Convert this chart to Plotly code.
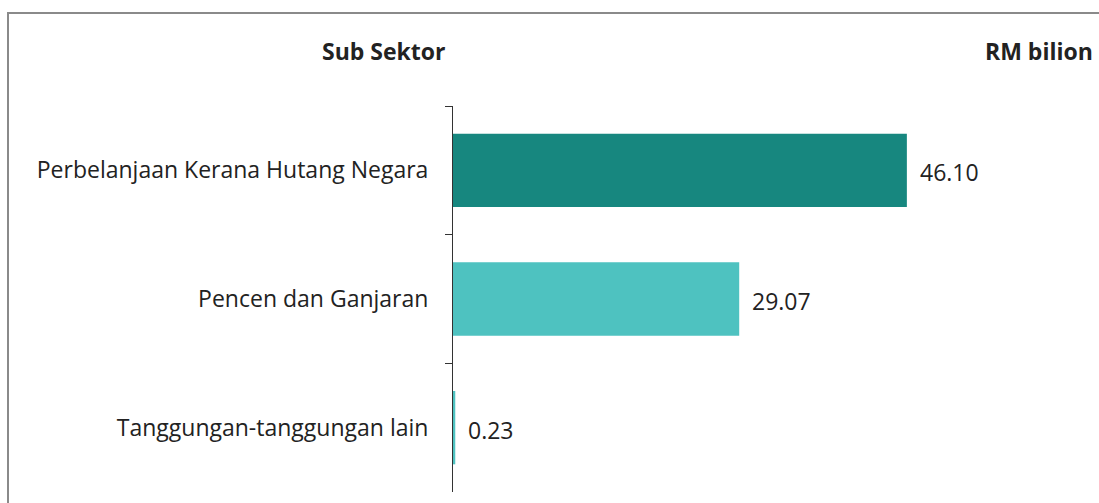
import plotly.graph_objects as go

categories = ["Perbelanjaan Kerana Hutang Negara", "Pencen dan Ganjaran", "Tanggungan-tanggungan lain"]
values = [46.10, 29.07, 0.23]
bar_colors = ["#17877f", "#4ec2c0", "#4ec2c0"]
header_left = "Sub Sektor"
header_right = "RM bilion"

FONT = "Open Sans"
FS = 23
W, H = 1099, 503
L, R, T, B = 453, 9, 106, 11
pw = W - L - R
ph = H - T - B

def px_x(p):
    return (p - L) / pw

def px_y(p):
    return (H - B - p) / ph

fig = go.Figure()
fig.add_trace(go.Bar(
    x=values, y=categories, orientation="h",
    marker=dict(color=bar_colors, line=dict(width=0)),
    width=0.57, hoverinfo="skip",
))

for c, v in zip(categories, values):
    fig.add_annotation(x=v, y=c, xref="x", yref="y", text=f"{v:.2f}",
                       showarrow=False, xanchor="left", yanchor="middle",
                       xshift=11, yshift=-2,
                       font=dict(family=FONT, size=FS, color="#222"))

fig.add_annotation(x=px_x(448), y=px_y(51), xref="paper", yref="paper",
                   text=f"<b>{header_left}</b>", showarrow=False,
                   xanchor="right", yanchor="middle",
                   font=dict(family=FONT, size=FS, color="#222"))
fig.add_annotation(x=px_x(1095), y=px_y(51), xref="paper", yref="paper",
                   text=f"<b>{header_right}</b>", showarrow=False,
                   xanchor="right", yanchor="middle",
                   font=dict(family=FONT, size=FS, color="#222"))

fig.add_shape(type="rect", xref="paper", yref="paper",
              x0=px_x(8), x1=px_x(1110), y0=px_y(13), y1=px_y(515),
              line=dict(color="#8a8a8a", width=2), fillcolor="rgba(0,0,0,0)")

fig.update_layout(
    width=W, height=H,
    margin=dict(l=L, r=R, t=T, b=B, pad=0),
    paper_bgcolor="white", plot_bgcolor="white",
    showlegend=False,
    font=dict(family=FONT, size=FS, color="#222"),
    bargap=0.43,
)
fig.update_xaxes(range=[0, 64.7], visible=False, showgrid=False, zeroline=False)
fig.update_yaxes(
    type="category", categoryorder="array", categoryarray=categories,
    autorange="reversed",
    showline=True, linecolor="#333", linewidth=1,
    ticks="outside", tickson="boundaries", ticklen=7, tickcolor="#333",
    ticklabelstandoff=19,
    showgrid=False, zeroline=False,
    tickfont=dict(family=FONT, size=FS, color="#222"),
)

fig.write_html("out.html")
